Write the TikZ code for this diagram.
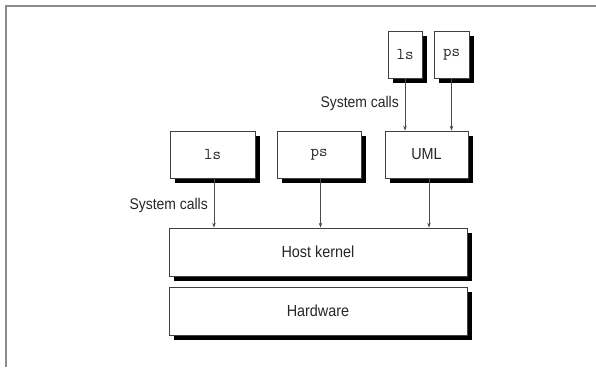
\documentclass[tikz,border=0pt]{standalone}
\usepackage{fontspec}
\setmainfont{Liberation Sans}
\usetikzlibrary{shadows,arrows.meta}
\newcommand\cnd[1]{\scalebox{0.9}[1]{#1}}
\begin{document}
\begin{tikzpicture}[x=1pt,y=-1pt,
  box/.style={draw=black!75, line width=0.7pt, fill=white, inner sep=0pt,
    minimum height=47pt,
    drop shadow={shadow xshift=4.5pt, shadow yshift=-5pt, fill=black, opacity=1},
    font=\fontsize{16}{18}\selectfont, text=black!85},
  monotxt/.style={font=\ttfamily\fontsize{16.5}{18}\selectfont},
  conn/.style={draw=black!70, line width=0.6pt, -{Stealth[length=5pt,width=3.5pt]}},
  lbl/.style={font=\fontsize{15.5}{17}\selectfont, text=black!85, inner sep=0pt, anchor=east},
  frame/.style={draw=black!45, line width=2pt}
]
\useasboundingbox (0,0) rectangle (596,367);
\draw[frame] (596,5.5) -- (5.5,5.5) -- (5.5,367);

\node[box, monotxt, minimum width=34pt] (tls) at (405,54.5) {ls};
\node[box, monotxt, minimum width=35pt] (tps) at (451.5,54.5) {ps};

\node[box, monotxt, minimum width=85pt] (ls) at (212.5,154.5) {ls};
\node[box, monotxt, minimum width=84pt] (ps) at (319,154.5) {ps};
\node[box, minimum width=83pt] (uml) at (426.5,154.5) {\cnd{UML}};

\node[box, minimum width=298pt, minimum height=48pt] (host) at (318,252) {\cnd{Host kernel}};
\node[box, minimum width=298pt, minimum height=48pt] (hw) at (318,311) {\cnd{Hardware}};

\draw[conn] (tls.south) -- (tls.south |- uml.north);
\draw[conn] (tps.south) -- (tps.south |- uml.north);
\draw[conn] ([xshift=1.5pt]ls.south) -- ([xshift=1.5pt]ls.south |- host.north);
\draw[conn] ([xshift=1.5pt]ps.south) -- ([xshift=1.5pt]ps.south |- host.north);
\draw[conn] ([xshift=2.5pt]uml.south) -- ([xshift=2.5pt]uml.south |- host.north);

\node[lbl] (sc1) at (399,103) {\cnd{System calls}};
\node[lbl] (sc2) at (208,205) {\cnd{System calls}};
\end{tikzpicture}
\end{document}
